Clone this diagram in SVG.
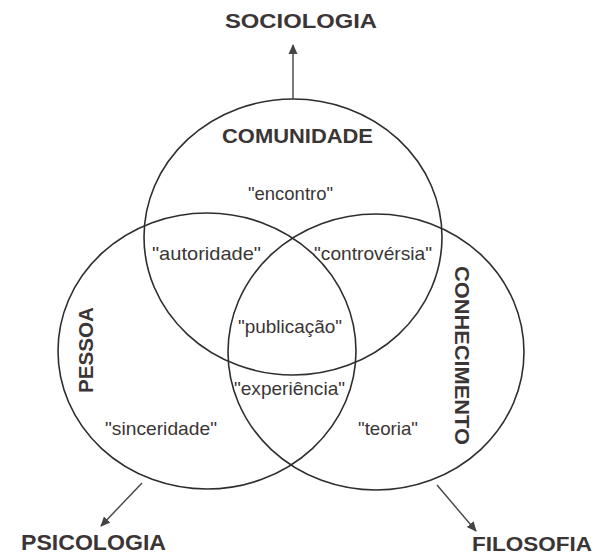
<svg xmlns="http://www.w3.org/2000/svg" width="598" height="556" viewBox="0 0 598 556">
<style>
.c{fill:none;stroke:#2e2e2e;stroke-width:1.6}
.a{fill:none;stroke:#444;stroke-width:1.4}
.h{font-family:"Liberation Sans",Arial,sans-serif;font-weight:bold;font-size:21px;fill:#3b3536;text-anchor:middle}
.l{font-family:"Liberation Sans",Arial,sans-serif;font-size:19px;fill:#3b3536;text-anchor:middle}
</style>
<defs>
<marker id="ah" viewBox="0 0 10 10" refX="9" refY="5" markerWidth="10" markerHeight="10" markerUnits="userSpaceOnUse" orient="auto">
<path d="M0,0.5 L10,5 L0,9.5 Z" fill="#444"/>
</marker>
</defs>
<rect width="598" height="556" fill="#fff"/>
<g id="comunidade">
<ellipse class="c" cx="293" cy="237" rx="149" ry="138"/>
<text class="h" x="297.5" y="143" textLength="151" lengthAdjust="spacingAndGlyphs">COMUNIDADE</text>
<text class="l" x="290.5" y="200" textLength="85" lengthAdjust="spacingAndGlyphs">"encontro"</text>
</g>
<g id="pessoa">
<ellipse class="c" cx="207" cy="351" rx="149" ry="138"/>
<text class="h" transform="translate(93,350) rotate(-90)" x="0" y="0" textLength="86" lengthAdjust="spacingAndGlyphs">PESSOA</text>
<text class="l" x="161" y="435" textLength="112" lengthAdjust="spacingAndGlyphs">"sinceridade"</text>
</g>
<g id="conhecimento">
<ellipse class="c" cx="376" cy="352" rx="148" ry="138"/>
<text class="h" transform="translate(455,355.5) rotate(90)" x="0" y="0" textLength="179" lengthAdjust="spacingAndGlyphs">CONHECIMENTO</text>
<text class="l" x="388" y="435" textLength="60" lengthAdjust="spacingAndGlyphs">"teoria"</text>
</g>
<g id="intersections">
<text class="l" x="206.5" y="260" textLength="109" lengthAdjust="spacingAndGlyphs">"autoridade"</text>
<text class="l" x="373" y="260" textLength="118" lengthAdjust="spacingAndGlyphs">"controvérsia"</text>
<text class="l" x="290" y="333" textLength="104" lengthAdjust="spacingAndGlyphs">"publicação"</text>
<text class="l" x="289.5" y="395" textLength="111" lengthAdjust="spacingAndGlyphs">"experiência"</text>
</g>
<g id="sociologia">
<text class="h" x="301" y="28" textLength="152" lengthAdjust="spacingAndGlyphs">SOCIOLOGIA</text>
</g>
<g id="psicologia">
<text class="h" x="93.5" y="550" textLength="145" lengthAdjust="spacingAndGlyphs" style="font-size:22px">PSICOLOGIA</text>
</g>
<g id="filosofia">
<text class="h" x="532" y="551" textLength="120" lengthAdjust="spacingAndGlyphs" style="font-size:21px">FILOSOFIA</text>
</g>
<g id="connectors">
<line class="a" x1="293" y1="99" x2="293" y2="45" marker-end="url(#ah)"/>
<line class="a" x1="142" y1="483" x2="101" y2="526" marker-end="url(#ah)"/>
<line class="a" x1="437" y1="485" x2="476" y2="531" marker-end="url(#ah)"/>
</g>
</svg>
